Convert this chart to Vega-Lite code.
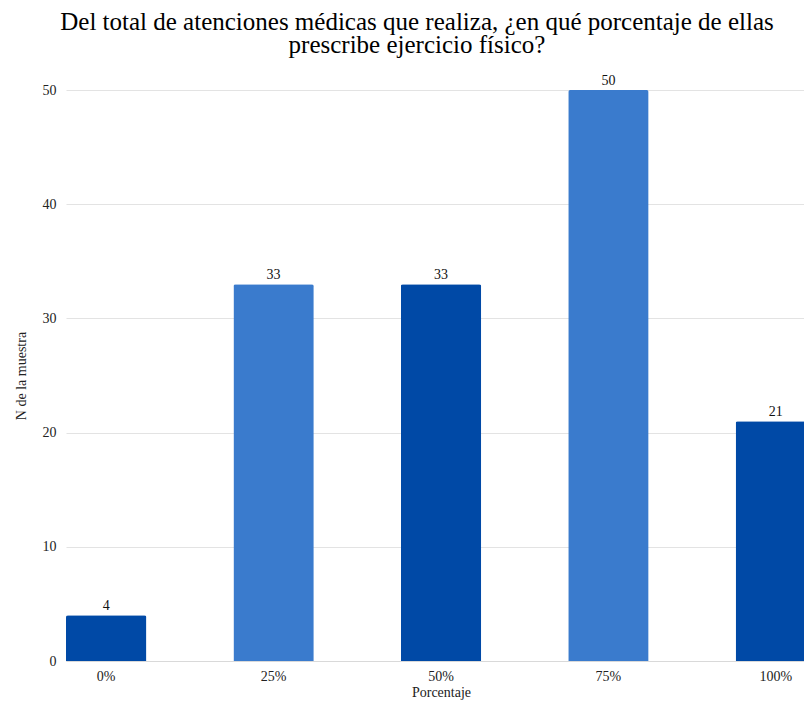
{
  "$schema": "https://vega.github.io/schema/vega-lite/v6.json",
  "autosize": "none",
  "padding": {"left": 66, "top": 90, "right": 0, "bottom": 44},
  "width": 750,
  "height": 571,
  "title": {
    "text": ["Del total de atenciones médicas que realiza, ¿en qué porcentaje de ellas", "prescribe ejercicio físico?"],
    "font": "Liberation Serif",
    "fontSize": 25,
    "fontWeight": "normal",
    "lineHeight": 23,
    "color": "#000000",
    "offset": 16,
    "dx": -24
  },
  "data": {
    "values": [
      {"porcentaje": "0%", "n": 4, "tono": "oscuro"},
      {"porcentaje": "25%", "n": 33, "tono": "claro"},
      {"porcentaje": "50%", "n": 33, "tono": "oscuro"},
      {"porcentaje": "75%", "n": 50, "tono": "claro"},
      {"porcentaje": "100%", "n": 21, "tono": "oscuro"}
    ]
  },
  "config": {
    "view": {"stroke": null},
    "font": "Liberation Serif"
  },
  "encoding": {
    "x": {
      "field": "porcentaje",
      "type": "nominal",
      "sort": null,
      "scale": {"paddingInner": 0.52, "paddingOuter": 0},
      "axis": {
        "title": "Porcentaje",
        "labelAngle": 0,
        "labelFont": "Liberation Serif",
        "labelFontSize": 14,
        "labelColor": "#222222",
        "labelPadding": 8,
        "titleFont": "Liberation Serif",
        "titleFontSize": 14,
        "titleFontWeight": "normal",
        "titleColor": "#222222",
        "titlePadding": 2,
        "ticks": false,
        "domainColor": "#d9d9d9",
        "grid": false
      }
    },
    "y": {
      "field": "n",
      "type": "quantitative",
      "scale": {"domain": [0, 50], "nice": false},
      "axis": {
        "title": "N de la muestra",
        "values": [0, 10, 20, 30, 40, 50],
        "labelFont": "Liberation Serif",
        "labelFontSize": 14,
        "labelColor": "#222222",
        "labelPadding": 10,
        "titleFont": "Liberation Serif",
        "titleFontSize": 14,
        "titleFontWeight": "normal",
        "titleColor": "#222222",
        "titlePadding": 14,
        "ticks": false,
        "domain": false,
        "gridColor": "#e3e3e3",
        "gridWidth": 1
      }
    }
  },
  "layer": [
    {
      "mark": {"type": "bar", "cornerRadiusTopLeft": 2, "cornerRadiusTopRight": 2},
      "encoding": {
        "color": {
          "field": "tono",
          "type": "nominal",
          "scale": {"domain": ["oscuro", "claro"], "range": ["#0049A6", "#3A7BCD"]},
          "legend": null
        }
      }
    },
    {
      "mark": {"type": "text", "baseline": "bottom", "dy": -2, "fontSize": 14, "font": "Liberation Serif", "color": "#111111"},
      "encoding": {"text": {"field": "n", "type": "quantitative"}}
    }
  ]
}
